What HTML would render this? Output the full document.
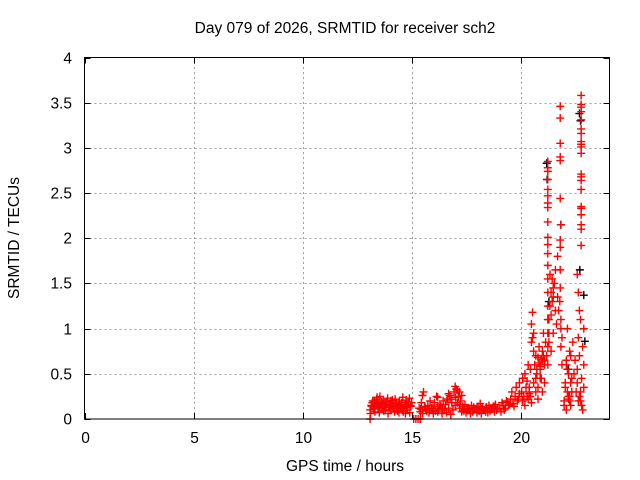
<!DOCTYPE html>
<html><head><meta charset="utf-8"><style>
html,body{margin:0;padding:0;background:#fff;}
svg{display:block;font-family:"Liberation Sans",sans-serif;}
</style></head><body>
<svg id="chart" width="640" height="480" viewBox="0 0 640 480" xmlns="http://www.w3.org/2000/svg">
<text x="345" y="33" font-size="15.5" text-anchor="middle">Day 079 of 2026, SRMTID for receiver sch2</text>
<text transform="translate(19,238) rotate(-90)" font-size="15.5" text-anchor="middle">SRMTID / TECUs</text>
<text x="345" y="471" font-size="15.5" text-anchor="middle">GPS time / hours</text>
<g id="grid"></g>
<g id="blk"></g>
<g id="red"></g>
<rect x="84.5" y="57.5" width="525" height="361.5" fill="none" stroke="#000" stroke-width="1"/>
<g id="ticks"></g>
</svg>
<script>
const xTicks=[0,5,10,15,20];
const yTicks=[0,0.5,1,1.5,2,2.5,3,3.5,4];
const yTickLabels=["0","0.5","1","1.5","2","2.5","3","3.5","4"];
const redTimes=[
13.1,13.15,13.2,13.25,13.3,13.35,13.4,13.45,13.5,13.55,13.6,13.65,13.7,13.75,13.8,13.85,13.9,13.95,14.0,14.05,14.1,14.15,14.2,14.25,14.3,14.35,14.4,14.45,14.5,14.55,14.6,14.65,14.7,14.75,14.8,14.85,14.9,14.95,15.0,
13.12,13.22,13.32,13.42,13.52,13.62,13.72,13.82,13.92,14.02,14.12,14.22,14.32,14.42,14.52,14.62,14.72,14.82,14.92,
13.17,13.27,13.37,13.47,13.57,13.67,13.77,13.87,13.97,14.07,14.17,14.27,14.37,14.47,14.57,14.67,14.77,14.87,14.97,
13.1,15.1,15.2,15.3,15.4,
15.35,15.45,15.55,15.65,15.75,15.85,15.95,16.05,16.15,16.25,16.35,16.45,16.55,16.65,16.75,16.85,16.95,17.05,17.15,17.25,17.35,17.45,17.55,17.65,17.75,17.85,17.95,18.05,18.15,18.25,18.35,18.45,18.55,18.65,18.75,18.85,18.95,
15.4,15.5,15.6,15.7,15.8,15.9,16.0,16.1,16.2,16.3,16.4,16.5,16.6,16.7,16.8,16.9,17.0,17.1,17.2,17.3,17.4,17.5,17.6,17.7,17.8,17.9,18.0,18.1,18.2,18.3,18.4,18.5,18.6,18.7,18.8,18.9,
15.42,15.62,15.82,16.02,16.22,16.42,16.62,16.82,17.02,17.22,17.42,17.62,17.82,18.02,18.22,18.42,18.62,18.82,
15.5,16.7,17.0,17.1,17.2,17.3,16.2,
19.05,19.15,19.25,19.35,19.45,19.55,19.65,19.75,19.85,19.95,19.1,19.3,19.5,19.7,19.9,19.6,19.8,19.95,19.2,19.4,
20.05,20.1,20.15,20.2,20.25,20.3,20.35,20.4,20.45,20.5,20.55,20.6,20.65,20.7,20.75,20.8,20.85,20.9,20.95,21.0,21.05,21.1,21.15,
20.1,20.2,20.3,20.4,20.5,20.6,20.7,20.8,20.9,21.0,21.1,
20.5,20.55,20.6,20.45,20.7,20.75,20.8,20.85,20.9,20.95,21.0,21.05,21.1,20.35,20.4,
21.25,21.25,21.25,21.25,21.25,21.25,21.25,21.25,21.25,21.25,21.25,21.25,21.25,21.25,21.25,21.25,21.25,21.25,21.25,21.25,
21.2,21.3,21.35,21.4,21.45,21.5,21.3,21.35,21.4,21.45,21.5,21.55,21.6,21.65,21.7,21.3,21.4,21.5,21.6,21.7,
21.82,21.82,21.82,21.82,21.82,21.82,21.82,21.82,21.82,21.82,21.85,21.85,21.85,21.85,21.8,21.9,21.9,21.75,
22.0,22.05,22.1,22.15,22.2,22.25,22.3,22.35,22.0,22.05,22.1,22.15,22.2,22.25,22.3,22.35,22.1,22.2,22.3,22.15,22.25,22.4,22.45,22.5,
22.78,22.78,22.78,22.78,22.78,22.78,22.78,22.78,22.78,22.78,22.78,22.78,22.78,22.78,22.78,22.78,22.78,22.78,22.78,22.78,22.78,
22.6,22.65,22.7,22.75,22.85,22.9,22.6,22.65,22.7,22.75,22.8,22.85,22.9,22.6,22.7,22.8,22.9,22.65,22.75,22.55
];
const redValues=[
0.10,0.15,0.18,0.12,0.20,0.16,0.22,0.14,0.18,0.25,0.12,0.17,0.21,0.15,0.10,0.19,0.23,0.13,0.16,0.20,0.11,0.18,0.14,0.22,0.17,0.09,0.15,0.20,0.13,0.18,0.24,0.12,0.16,0.21,0.14,0.19,0.23,0.15,0.18,
0.06,0.20,0.08,0.24,0.07,0.19,0.09,0.13,0.06,0.10,0.21,0.08,0.12,0.07,0.11,0.08,0.06,0.10,0.07,
0.14,0.11,0.17,0.13,0.15,0.12,0.18,0.16,0.13,0.15,0.12,0.17,0.14,0.16,0.12,0.15,0.13,0.16,0.14,
0.0,0.0,0.0,0.0,0.0,
0.12,0.18,0.30,0.10,0.15,0.20,0.12,0.18,0.25,0.10,0.14,0.20,0.16,0.22,0.26,0.18,0.30,0.33,0.25,0.20,0.14,0.16,0.12,0.10,0.15,0.13,0.11,0.14,0.17,0.12,0.10,0.13,0.15,0.11,0.14,0.16,0.12,
0.08,0.06,0.14,0.09,0.07,0.12,0.06,0.09,0.08,0.16,0.06,0.10,0.07,0.12,0.05,0.10,0.15,0.18,0.12,0.08,0.09,0.07,0.10,0.06,0.08,0.11,0.07,0.09,0.06,0.10,0.08,0.07,0.09,0.11,0.08,0.10,
0.11,0.13,0.10,0.12,0.14,0.11,0.20,0.22,0.24,0.16,0.11,0.12,0.10,0.12,0.11,0.13,0.12,0.14,
0.26,0.28,0.36,0.32,0.30,0.26,0.24,
0.12,0.18,0.10,0.20,0.15,0.22,0.17,0.25,0.20,0.28,0.08,0.12,0.16,0.14,0.22,0.30,0.35,0.40,0.15,0.19,
0.30,0.45,0.25,0.50,0.35,0.42,0.60,0.30,0.55,0.85,1.18,0.95,0.60,0.70,0.55,0.68,0.62,0.58,0.66,0.64,0.70,0.60,0.85,
0.20,0.15,0.25,0.35,0.18,0.40,0.30,0.22,0.45,0.30,0.40,
1.05,0.90,0.75,0.25,0.45,0.50,0.35,0.80,0.55,0.45,0.75,0.95,0.65,0.22,0.28,
2.85,2.78,2.74,2.65,2.54,2.47,2.39,2.34,2.18,2.01,1.93,1.83,1.70,1.55,1.40,1.25,1.10,0.95,0.80,0.60,
0.70,1.10,1.25,1.40,1.55,1.35,0.95,1.60,1.15,1.30,1.45,1.50,1.20,1.05,1.35,0.85,0.75,0.95,1.65,1.80,
3.46,3.33,3.05,2.90,2.86,2.44,1.98,1.90,1.65,1.45,1.10,1.00,0.80,2.15,1.30,0.90,0.60,1.20,
0.20,0.40,0.60,0.30,0.50,0.25,0.70,0.45,0.15,0.35,0.10,0.55,0.25,0.20,0.40,0.30,0.65,0.22,0.15,1.00,0.75,0.85,0.50,0.65,
3.58,3.48,3.45,3.40,3.31,3.21,3.16,3.07,3.04,3.01,2.94,2.71,2.68,2.64,2.54,2.35,2.33,2.26,2.15,2.10,1.92,
1.60,1.40,1.20,1.10,0.80,0.60,0.40,0.20,0.25,0.30,0.15,0.10,0.35,0.55,0.70,0.45,1.00,0.90,0.20,0.30
];
const blackTimes=[21.2,21.22,21.85,22.7,22.75,22.72,22.9,22.95,21.3,22.2];
const blackValues=[2.83,2.65,2.15,3.38,3.30,1.65,1.37,0.86,1.30,0.55];

const X0=84.5,X1=609.5,Y0=419,Y1=57.5,XMAX=24.08,YMAX=4;
function xs(t){return X0+(X1-X0)*t/XMAX;}
function ys(v){return Y0-(Y0-Y1)*v/YMAX;}
const NS="http://www.w3.org/2000/svg";
function mk(tag,attrs,parent){const e=document.createElementNS(NS,tag);for(const k in attrs)e.setAttribute(k,attrs[k]);parent.appendChild(e);return e;}
const grid=document.getElementById('grid'),ticks=document.getElementById('ticks');
xTicks.forEach(function(t){
  const x=Math.round(xs(t))+0.5;
  if(t>0){const g=mk('line',{x1:x,x2:x,y1:Y0,y2:Y1,stroke:'#a0a0a0','stroke-dasharray':'2,3'},grid);
  
  }
  const a=mk('line',{x1:x,x2:x,y1:Y0,y2:Y0-6,stroke:'#000'},ticks);
  
  
  const b=mk('line',{x1:x,x2:x,y1:Y1,y2:Y1+6,stroke:'#000'},ticks);
  
  
  const l=mk('text',{x:x,y:443,'font-size':15.5,'text-anchor':'middle'},ticks);l.textContent=String(t);
  
  
});
yTicks.forEach(function(v,i){
  const y=Math.round(ys(v))+0.5;
  if(v>0&&v<4){const g=mk('line',{x1:X0,x2:X1,y1:y,y2:y,stroke:'#a0a0a0','stroke-dasharray':'2,3'},grid);
  
  }
  const a=mk('line',{x1:X0,x2:X0+6,y1:y,y2:y,stroke:'#000'},ticks);
  
  
  const b=mk('line',{x1:X1,x2:X1-6,y1:y,y2:y,stroke:'#000'},ticks);
  
  
  const l=mk('text',{x:72,y:y+5,'font-size':15.5,'text-anchor':'end'},ticks);l.textContent=yTickLabels[i];
  
  
});
function plus(parent,t,v,col){
  const x=xs(t),y=ys(v);
  const p=mk('path',{d:'M'+(x-4)+' '+y+'H'+(x+4)+'M'+x+' '+(y-4)+'V'+(y+4),stroke:col,'stroke-width':1.4,fill:'none'},parent);
  
  
}
const blk=document.getElementById('blk'),red=document.getElementById('red');
blackTimes.forEach(function(t,i){plus(blk,t,blackValues[i],'#000');});
redTimes.forEach(function(t,i){plus(red,t,redValues[i],'#f00');});
</script>
</body></html>
